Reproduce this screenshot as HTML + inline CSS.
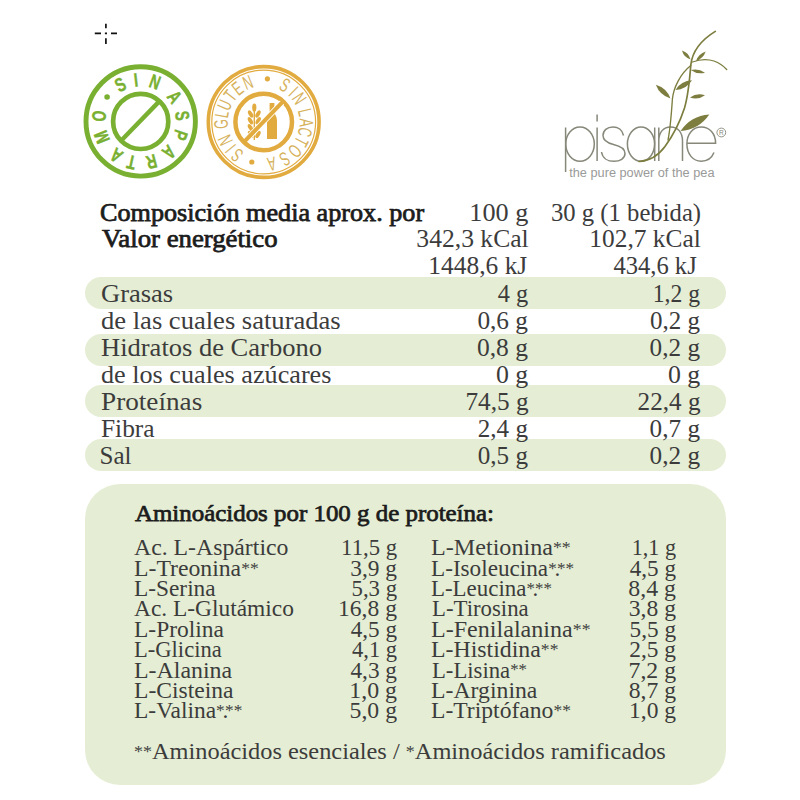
<!DOCTYPE html>
<html lang="es"><head><meta charset="utf-8"><title>Pisane - Composición</title>
<style>
html,body{margin:0;padding:0;background:#fff}
body{width:800px;height:800px;position:relative;overflow:hidden;font-family:"Liberation Serif",serif;color:#3c3c3c}
svg{position:absolute;left:0;top:0}
.band{position:absolute;left:84.5px;width:641.5px;background:#e5eed4;border-radius:16px}
.box{position:absolute;left:84.75px;top:484.1px;width:641.5px;height:301.4px;background:#e5eed4;border-radius:35px}
.t{position:absolute;white-space:nowrap;line-height:1;font-size:25px}
.a{font-size:.74em;position:relative;top:-.12em}
.d{margin:0 -.14em 0 -.1em}
</style></head><body>
<svg width="800" height="800" viewBox="0 0 800 800">
<g stroke="#111" stroke-width="1.7" fill="none"><path d="M94.8 33.3H101M111 33.3H117M105.9 23.8V28.2M105.9 38.2V44M104.9 33.3H107"/></g>
<g fill="none" stroke="#79b031"><circle cx="140.7" cy="121.4" r="54.7" stroke-width="4.9"/><circle cx="140.7" cy="121.4" r="27.6" stroke-width="4.7"/><path d="M122 139.7L160.2 100.4" stroke-width="4.4"/></g>
<g fill="#79b031" stroke="#79b031" stroke-width="0.45" font-family="Liberation Sans, sans-serif" font-weight="bold" font-size="19.4" text-anchor="middle"><text transform="rotate(-29 140.7 121.4) translate(140.7 86.2) scale(0.72 1)">S</text><text transform="rotate(-6.5 140.7 121.4) translate(140.7 86.2) scale(0.72 1)">I</text><text transform="rotate(20 140.7 121.4) translate(140.7 86.2) scale(0.72 1)">N</text><text transform="rotate(54 140.7 121.4) translate(140.7 86.2) scale(0.72 1)">A</text><text transform="rotate(82 140.7 121.4) translate(140.7 86.2) scale(0.72 1)">S</text><text transform="rotate(109 140.7 121.4) translate(140.7 86.2) scale(0.72 1)">P</text><text transform="rotate(137.6 140.7 121.4) translate(140.7 86.2) scale(0.72 1)">A</text><text transform="rotate(165 140.7 121.4) translate(140.7 86.2) scale(0.72 1)">R</text><text transform="rotate(192.7 140.7 121.4) translate(140.7 86.2) scale(0.72 1)">T</text><text transform="rotate(215.7 140.7 121.4) translate(140.7 86.2) scale(0.72 1)">A</text><text transform="rotate(248 140.7 121.4) translate(140.7 86.2) scale(0.72 1)">M</text><text transform="rotate(277.5 140.7 121.4) translate(140.7 86.2) scale(0.72 1)">O</text></g><circle cx="107.1" cy="97.0" r="2.8" fill="#79b031"/>
<g fill="none" stroke="#e2ab3f"><circle cx="263.7" cy="122.0" r="55.4" stroke-width="3.6"/><circle cx="263.7" cy="122.0" r="51.9" stroke-width="1.2"/><circle cx="263.7" cy="122.0" r="28.3" stroke-width="4.5"/></g>
<g fill="#d6b25c" font-family="Liberation Sans, sans-serif" font-size="19.5" text-anchor="middle"><text transform="rotate(218.6 263.7 122.0) translate(263.7 86.1) scale(0.63 1)">S</text><text transform="rotate(231.2 263.7 122.0) translate(263.7 86.1) scale(0.63 1)">I</text><text transform="rotate(244.7 263.7 122.0) translate(263.7 86.1) scale(0.63 1)">N</text><text transform="rotate(267.3 263.7 122.0) translate(263.7 86.1) scale(0.63 1)">G</text><text transform="rotate(280.6 263.7 122.0) translate(263.7 86.1) scale(0.63 1)">L</text><text transform="rotate(293.4 263.7 122.0) translate(263.7 86.1) scale(0.63 1)">U</text><text transform="rotate(308.1 263.7 122.0) translate(263.7 86.1) scale(0.63 1)">T</text><text transform="rotate(322.1 263.7 122.0) translate(263.7 86.1) scale(0.63 1)">E</text><text transform="rotate(338 263.7 122.0) translate(263.7 86.1) scale(0.63 1)">N</text><text transform="rotate(29.9 263.7 122.0) translate(263.7 86.1) scale(0.63 1)">S</text><text transform="rotate(44 263.7 122.0) translate(263.7 86.1) scale(0.63 1)">I</text><text transform="rotate(56.7 263.7 122.0) translate(263.7 86.1) scale(0.63 1)">N</text><text transform="rotate(76.7 263.7 122.0) translate(263.7 86.1) scale(0.63 1)">L</text><text transform="rotate(91.1 263.7 122.0) translate(263.7 86.1) scale(0.63 1)">A</text><text transform="rotate(103.8 263.7 122.0) translate(263.7 86.1) scale(0.63 1)">C</text><text transform="rotate(117.7 263.7 122.0) translate(263.7 86.1) scale(0.63 1)">T</text><text transform="rotate(132.9 263.7 122.0) translate(263.7 86.1) scale(0.63 1)">O</text><text transform="rotate(150.2 263.7 122.0) translate(263.7 86.1) scale(0.63 1)">S</text><text transform="rotate(169 263.7 122.0) translate(263.7 86.1) scale(0.63 1)">A</text></g><circle cx="267.4" cy="78.8" r="2.6" fill="#e2ab3f"/><circle cx="251.8" cy="162.0" r="2.6" fill="#e2ab3f"/>
<g fill="#e2ab3f">
<path d="M269.6 103h4.8v8.5c0 3 2.6 4.5 2.6 9v18.5h-10v-18.5c0-4.5 2.6-6 2.6-9z"/>
<ellipse cx="254.3" cy="107.6" rx="2.1" ry="4.2"/>
<ellipse cx="250.6" cy="114" rx="2" ry="4" transform="rotate(-30 250.6 114)"/><ellipse cx="258" cy="114" rx="2" ry="4" transform="rotate(30 258 114)"/>
<ellipse cx="250.4" cy="120.8" rx="2" ry="4" transform="rotate(-30 250.4 120.8)"/><ellipse cx="258.2" cy="120.8" rx="2" ry="4" transform="rotate(30 258.2 120.8)"/>
<ellipse cx="250.4" cy="127.6" rx="2" ry="4" transform="rotate(-30 250.4 127.6)"/><ellipse cx="258.2" cy="127.6" rx="2" ry="4" transform="rotate(30 258.2 127.6)"/>
<ellipse cx="250.6" cy="134.4" rx="2" ry="4" transform="rotate(-30 250.6 134.4)"/><ellipse cx="258" cy="134.4" rx="2" ry="4" transform="rotate(30 258 134.4)"/>
<rect x="253.6" y="110" width="1.4" height="30"/>
</g>
<path d="M246.5 139.5L282 102.5" stroke="#fff" stroke-width="5.8" fill="none"/>
<path d="M244.6 141.4L283.6 100.8" stroke="#e2ab3f" stroke-width="4.1" fill="none"/>
<g fill="none" stroke="#87887a" stroke-width="1.5" stroke-linecap="butt"><path d="M565.6 127.5V172"/><ellipse cx="580" cy="144.1" rx="14.3" ry="17.1"/><path d="M597.1 127.5V161M597.1 114.4V121.4"/><path d="M623.5 135.5C622.5 130 618 127 613 127C607 127 603 130.5 603 135.5C603 141 607.5 143 613.5 144.5C620 146 625 148.5 625 153.5C625 158.5 620 161.3 614 161.3C607.5 161.3 602.5 158 601.5 152"/><ellipse cx="641" cy="144.1" rx="13.6" ry="17.1"/><path d="M654.7 127.5V161"/><path d="M658.8 127.5V161M658.8 141C658.8 132 663.5 127 670.6 127C677.7 127 682.5 132 682.5 141V161"/><path d="M687 143.2H715.6C715.6 133.5 709.5 127 701.2 127C693 127 686.9 134 686.9 144.1C686.9 154 693 161.2 701.2 161.2C707 161.2 711.8 158 714 152.5"/><circle cx="721.3" cy="132.5" r="4.4" stroke-width="0.9"/></g><text x="721.3" y="134.8" font-family="Liberation Sans, sans-serif" font-size="6.5" fill="#87887a" text-anchor="middle">R</text><g fill="none" stroke="#7c7d3e" stroke-linecap="round"><path d="M639 161.5C649 161 658 156 665 146.5C673 135.5 680 122 684.5 108C688 96 689.5 82 690.8 65C692 54 698 42 715.3 31.4" stroke-width="1.7"/><path d="M668 140C670.5 128 671.5 112 672.4 99C673.5 88 680 74 690.8 65.5" stroke-width="1.35"/><path d="M692.5 62C699 59.5 708 59 714 61C719.5 63 723.5 66 726.7 69.5" stroke-width="1.3"/></g><g fill="#7c7d3e"><path d="M680.5 131.0Q698.9 129.7 709.3 114.5Q690.9 115.8 680.5 131.0Z"/><path d="M690.0 97.5Q698.1 100.3 705.0 95.2Q696.9 92.4 690.0 97.5Z"/><path d="M675.5 90.0Q686.4 89.6 692.0 80.3Q681.1 80.7 675.5 90.0Z"/><path d="M670.5 98.5Q666.6 88.0 655.8 84.8Q659.7 95.3 670.5 98.5Z"/><path d="M690.8 70.0Q697.2 74.7 705.0 72.8Q698.6 68.1 690.8 70.0Z"/><path d="M690.5 59.5Q688.7 52.7 682.0 50.5Q683.8 57.3 690.5 59.5Z"/><path d="M696.0 61.0Q703.2 58.7 705.7 51.5Q698.5 53.8 696.0 61.0Z"/></g><text x="569.2" y="177.4" font-family="Liberation Sans, sans-serif" font-size="12.5" fill="#9a9a98" textLength="145.3" lengthAdjust="spacingAndGlyphs">the pure power of the pea</text>
</svg>
<div class="band" style="top:277.1px;height:31.5px"></div><div class="band" style="top:333.8px;height:32.1px"></div><div class="band" style="top:385.2px;height:32.2px"></div><div class="band" style="top:439.4px;height:31.9px"></div>
<div class="box"></div>
<span class="t" style="left:100.0px;top:199.7px;transform-origin:0 0;transform:scaleX(1.0466);font-size:25px;-webkit-text-stroke:0.75px currentColor;color:#1c1c1c;">Composición media aprox. por</span>
<span class="t" style="left:102.0px;top:226.4px;transform-origin:0 0;transform:scaleX(1.0701);font-size:25px;-webkit-text-stroke:0.75px currentColor;color:#1c1c1c;">Valor energético</span>
<span class="t" style="left:100.5px;top:281.4px;transform-origin:0 0;transform:scaleX(1.0606);font-size:25px;">Grasas</span>
<span class="t" style="left:100.5px;top:308.3px;transform-origin:0 0;transform:scaleX(1.0625);font-size:25px;">de las cuales saturadas</span>
<span class="t" style="left:100.5px;top:335.2px;transform-origin:0 0;transform:scaleX(1.0607);font-size:25px;">Hidratos de Carbono</span>
<span class="t" style="left:100.6px;top:362.2px;transform-origin:0 0;transform:scaleX(1.0472);font-size:25px;">de los cuales azúcares</span>
<span class="t" style="left:100.5px;top:389.0px;transform-origin:0 0;transform:scaleX(1.0879);font-size:25px;">Proteínas</span>
<span class="t" style="left:100.6px;top:416.0px;transform-origin:0 0;transform:scaleX(1.0154);font-size:25px;">Fibra</span>
<span class="t" style="left:99.6px;top:442.9px;transform-origin:0 0;transform:scaleX(1.0000);font-size:25px;">Sal</span>
<span class="t" style="right:272.1px;top:199.7px;transform-origin:100% 0;transform:scaleX(1.0481);font-size:25px;">100 g</span>
<span class="t" style="right:271.7px;top:226.4px;transform-origin:100% 0;transform:scaleX(1.0241);font-size:25px;">342,3 kCal</span>
<span class="t" style="right:273.2px;top:253.2px;transform-origin:100% 0;transform:scaleX(1.0168);font-size:25px;">1448,6 kJ</span>
<span class="t" style="right:272.2px;top:281.4px;transform-origin:100% 0;transform:scaleX(0.9742);font-size:25px;">4 g</span>
<span class="t" style="right:272.4px;top:308.3px;transform-origin:100% 0;transform:scaleX(1.0122);font-size:25px;">0,6 g</span>
<span class="t" style="right:272.4px;top:335.2px;transform-origin:100% 0;transform:scaleX(1.0204);font-size:25px;">0,8 g</span>
<span class="t" style="right:272.1px;top:362.2px;transform-origin:100% 0;transform:scaleX(1.0333);font-size:25px;">0 g</span>
<span class="t" style="right:271.9px;top:389.0px;transform-origin:100% 0;transform:scaleX(1.0100);font-size:25px;">74,5 g</span>
<span class="t" style="right:272.4px;top:416.0px;transform-origin:100% 0;transform:scaleX(1.0041);font-size:25px;">2,4 g</span>
<span class="t" style="right:272.4px;top:442.9px;transform-origin:100% 0;transform:scaleX(1.0041);font-size:25px;">0,5 g</span>
<span class="t" style="right:99.0px;top:199.7px;transform-origin:100% 0;transform:scaleX(0.9867);font-size:25px;">30 g (1 bebida)</span>
<span class="t" style="right:99.3px;top:226.4px;transform-origin:100% 0;transform:scaleX(1.0150);font-size:25px;">102,7 kCal</span>
<span class="t" style="right:103.7px;top:253.2px;transform-origin:100% 0;transform:scaleX(0.9833);font-size:25px;">434,6 kJ</span>
<span class="t" style="right:100.0px;top:281.4px;transform-origin:100% 0;transform:scaleX(0.9458);font-size:25px;">1,2 g</span>
<span class="t" style="right:100.0px;top:308.3px;transform-origin:100% 0;transform:scaleX(1.0000);font-size:25px;">0,2 g</span>
<span class="t" style="right:100.0px;top:335.2px;transform-origin:100% 0;transform:scaleX(1.0082);font-size:25px;">0,2 g</span>
<span class="t" style="right:99.7px;top:362.2px;transform-origin:100% 0;transform:scaleX(1.0333);font-size:25px;">0 g</span>
<span class="t" style="right:99.5px;top:389.0px;transform-origin:100% 0;transform:scaleX(1.0066);font-size:25px;">22,4 g</span>
<span class="t" style="right:100.0px;top:416.0px;transform-origin:100% 0;transform:scaleX(1.0082);font-size:25px;">0,7 g</span>
<span class="t" style="right:100.0px;top:442.9px;transform-origin:100% 0;transform:scaleX(1.0082);font-size:25px;">0,2 g</span>
<span class="t" style="left:134.5px;top:501.4px;transform-origin:0 0;transform:scaleX(1.0377);font-size:24px;-webkit-text-stroke:0.75px currentColor;color:#1c1c1c;">Aminoácidos por 100 g de proteína:</span>
<span class="t" style="left:133.8px;top:535.4px;transform-origin:0 0;transform:scaleX(0.9903);font-size:24px;">Ac. L-Aspártico</span>
<span class="t" style="right:402.6px;top:535.4px;transform-origin:100% 0;transform:scaleX(0.9474);font-size:24px;">11,5 g</span>
<span class="t" style="left:133.8px;top:555.8px;transform-origin:0 0;transform:scaleX(0.9879);font-size:24px;">L-Treonina<span class="a">**</span></span>
<span class="t" style="right:402.7px;top:555.8px;transform-origin:100% 0;transform:scaleX(0.9745);font-size:24px;">3,9 g</span>
<span class="t" style="left:133.8px;top:576.1px;transform-origin:0 0;transform:scaleX(0.9723);font-size:24px;">L-Serina</span>
<span class="t" style="right:402.7px;top:576.1px;transform-origin:100% 0;transform:scaleX(0.9468);font-size:24px;">5,3 g</span>
<span class="t" style="left:133.8px;top:596.4px;transform-origin:0 0;transform:scaleX(0.9753);font-size:24px;">Ac. L-Glutámico</span>
<span class="t" style="right:402.7px;top:596.4px;transform-origin:100% 0;transform:scaleX(0.9828);font-size:24px;">16,8 g</span>
<span class="t" style="left:133.8px;top:616.8px;transform-origin:0 0;transform:scaleX(0.9780);font-size:24px;">L-Prolina</span>
<span class="t" style="right:402.7px;top:616.8px;transform-origin:100% 0;transform:scaleX(0.9625);font-size:24px;">4,5 g</span>
<span class="t" style="left:133.9px;top:637.1px;transform-origin:0 0;transform:scaleX(0.9402);font-size:24px;">L-Glicina</span>
<span class="t" style="right:402.7px;top:637.1px;transform-origin:100% 0;transform:scaleX(0.9375);font-size:24px;">4,1 g</span>
<span class="t" style="left:133.8px;top:657.5px;transform-origin:0 0;transform:scaleX(0.9948);font-size:24px;">L-Alanina</span>
<span class="t" style="right:402.7px;top:657.5px;transform-origin:100% 0;transform:scaleX(0.9688);font-size:24px;">4,3 g</span>
<span class="t" style="left:133.8px;top:677.9px;transform-origin:0 0;transform:scaleX(0.9820);font-size:24px;">L-Cisteina</span>
<span class="t" style="right:402.7px;top:677.9px;transform-origin:100% 0;transform:scaleX(0.9957);font-size:24px;">1,0 g</span>
<span class="t" style="left:133.8px;top:698.2px;transform-origin:0 0;transform:scaleX(0.9771);font-size:24px;">L-Valina<span class="a">*</span><span class="d">.</span><span class="a">**</span></span>
<span class="t" style="right:402.7px;top:698.2px;transform-origin:100% 0;transform:scaleX(0.9894);font-size:24px;">5,0 g</span>
<span class="t" style="left:431.4px;top:535.4px;transform-origin:0 0;transform:scaleX(1.0051);font-size:24px;">L-Metionina<span class="a">**</span></span>
<span class="t" style="right:123.8px;top:535.4px;transform-origin:100% 0;transform:scaleX(0.9239);font-size:24px;">1,1 g</span>
<span class="t" style="left:431.4px;top:555.8px;transform-origin:0 0;transform:scaleX(0.9658);font-size:24px;">L-Isoleucina<span class="a">*</span><span class="d">.</span><span class="a">**</span></span>
<span class="t" style="right:123.8px;top:555.8px;transform-origin:100% 0;transform:scaleX(0.9625);font-size:24px;">4,5 g</span>
<span class="t" style="left:431.4px;top:576.1px;transform-origin:0 0;transform:scaleX(0.9544);font-size:24px;">L-Leucina<span class="a">*</span><span class="d">.</span><span class="a">**</span></span>
<span class="t" style="right:123.8px;top:576.1px;transform-origin:100% 0;transform:scaleX(0.9936);font-size:24px;">8,4 g</span>
<span class="t" style="left:431.5px;top:596.4px;transform-origin:0 0;transform:scaleX(0.9495);font-size:24px;">L-Tirosina</span>
<span class="t" style="right:123.8px;top:596.4px;transform-origin:100% 0;transform:scaleX(0.9830);font-size:24px;">3,8 g</span>
<span class="t" style="left:431.4px;top:616.8px;transform-origin:0 0;transform:scaleX(1.0032);font-size:24px;">L-Fenilalanina<span class="a">**</span></span>
<span class="t" style="right:123.8px;top:616.8px;transform-origin:100% 0;transform:scaleX(0.9681);font-size:24px;">5,5 g</span>
<span class="t" style="left:431.4px;top:637.1px;transform-origin:0 0;transform:scaleX(0.9929);font-size:24px;">L-Histidina<span class="a">**</span></span>
<span class="t" style="right:123.8px;top:637.1px;transform-origin:100% 0;transform:scaleX(0.9723);font-size:24px;">2,5 g</span>
<span class="t" style="left:431.5px;top:657.5px;transform-origin:0 0;transform:scaleX(0.9459);font-size:24px;">L-Lisina<span class="a">**</span></span>
<span class="t" style="right:123.8px;top:657.5px;transform-origin:100% 0;transform:scaleX(0.9891);font-size:24px;">7,2 g</span>
<span class="t" style="left:431.4px;top:677.9px;transform-origin:0 0;transform:scaleX(0.9896);font-size:24px;">L-Arginina</span>
<span class="t" style="right:123.8px;top:677.9px;transform-origin:100% 0;transform:scaleX(0.9830);font-size:24px;">8,7 g</span>
<span class="t" style="left:431.4px;top:698.2px;transform-origin:0 0;transform:scaleX(0.9836);font-size:24px;">L-Triptófano<span class="a">**</span></span>
<span class="t" style="right:123.8px;top:698.2px;transform-origin:100% 0;transform:scaleX(0.9783);font-size:24px;">1,0 g</span>
<span class="t" style="left:133.8px;top:739.3px;transform-origin:0 0;transform:scaleX(1.0153);font-size:24px;"><span class="a">**</span>Aminoácidos esenciales / <span class="a">*</span>Aminoácidos ramificados</span>
</body></html>
